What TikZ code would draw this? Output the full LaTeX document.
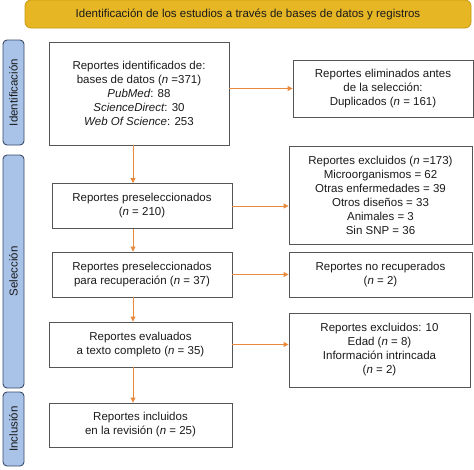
\documentclass[tikz,border=0pt]{standalone}
\usepackage{fontspec}
\setmainfont{Liberation Sans}
\usetikzlibrary{arrows.meta}
\definecolor{arrc}{HTML}{E8893C}
\definecolor{banfill}{HTML}{E6B625}
\definecolor{bandraw}{HTML}{C99A12}
\definecolor{phfill}{HTML}{A9C2E8}
\definecolor{phdraw}{HTML}{3A4A6A}
\definecolor{boxdraw}{HTML}{555555}
\definecolor{txt}{HTML}{1A1A1A}
\tikzset{
  box/.style={draw=boxdraw, text=txt, line width=0.9pt, rectangle, align=center, inner sep=0pt,
    font=\fontsize{11.5}{14}\selectfont},
  phase/.style={draw=phdraw, fill=phfill, line width=0.9pt, rounded corners=4pt, inner sep=0pt},
  phtext/.style={rotate=90, text=txt, font=\fontsize{11.5}{14}\selectfont},
  banner/.style={draw=bandraw, fill=banfill, text=txt, line width=0.8pt, rounded corners=6pt, inner sep=0pt,
    font=\fontsize{11.5}{14}\selectfont},
  arr/.style={draw=arrc, line width=0.9pt, -{Triangle[length=5pt,width=5pt]}},
}
\begin{document}
\begin{tikzpicture}[x=1pt,y=-1pt]
\useasboundingbox (0,0) rectangle (474,469);
% banner
\node[banner, minimum width=446pt, minimum height=28pt] (ban) at (248,14) {Identificación de los estudios a través de bases de datos y registros};
% phases
\node[phase, minimum width=21pt, minimum height=105pt] (ph1) at (13.5,92.5) {};
\node[phtext] (ph1t) at (ph1.center) {Identificación};
\node[phase, minimum width=21pt, minimum height=233pt] (ph2) at (13.5,271.5) {};
\node[phtext] (ph2t) at (ph2.center) {Selección};
\node[phase, minimum width=21pt, minimum height=74pt] (ph3) at (13.5,429) {};
\node[phtext] (ph3t) at (ph3.center) {Inclusión};
% left boxes
\node[box, minimum width=180pt, minimum height=103pt] (b1) at (139,93.5)
  {Reportes identificados de:\\bases de datos ({\itshape n} =371)\\{\itshape PubMed}: 88\\{\itshape ScienceDirect}: 30\\{\itshape Web Of Science}: 253};
\node[box, minimum width=180pt, minimum height=45pt] (b2) at (142,206)
  {Reportes preseleccionados\\({\itshape n} = 210)};
\node[box, minimum width=180pt, minimum height=45pt] (b3) at (142,274.5)
  {Reportes preseleccionados\\para recuperación ({\itshape n} = 37)};
\node[box, minimum width=183pt, minimum height=45pt] (b4) at (140.5,344.5)
  {Reportes evaluados\\a texto completo ({\itshape n} = 35)};
\node[box, minimum width=183pt, minimum height=44pt] (b5) at (140.5,425)
  {Reportes incluidos\\en la revisión ({\itshape n} = 25)};
% right boxes
\node[box, minimum width=180pt, minimum height=57pt] (r1) at (383,88.5)
  {Reportes eliminados antes\\de la selección:\\Duplicados ({\itshape n} = 161)};
\node[box, minimum width=183pt, minimum height=98pt] (r2) at (380.5,195)
  {Reportes excluidos ({\itshape n} =173)\\Microorganismos = 62\\Otras enfermedades = 39\\Otros diseños = 33\\Animales = 3\\Sin SNP = 36};
\node[box, minimum width=183pt, minimum height=45pt] (r3) at (380.5,274.5)
  {Reportes no recuperados\\({\itshape n} = 2)};
\node[box, minimum width=181pt, minimum height=74pt] (r4) at (379.5,350)
  {Reportes excluidos: 10\\Edad ({\itshape n} = 8)\\Información intrincada\\({\itshape n} = 2)};
% arrows
\coordinate (xa) at (133,0);
\draw[arr] (b1.south -| xa) -- (b2.north -| xa);
\draw[arr] (b2.south -| xa) -- (b3.north -| xa);
\draw[arr] (b3.south -| xa) -- (b4.north -| xa);
\draw[arr] (b4.south -| xa) -- (b5.north -| xa);
\draw[arr] (b1.east |- r1.west) -- (r1.west);
\draw[arr] (b2.east) -- (b2.east -| r2.west);
\draw[arr] (b3.east) -- (r3.west);
\draw[arr] (b4.east) -- (b4.east -| r4.west);
\end{tikzpicture}
\end{document}
